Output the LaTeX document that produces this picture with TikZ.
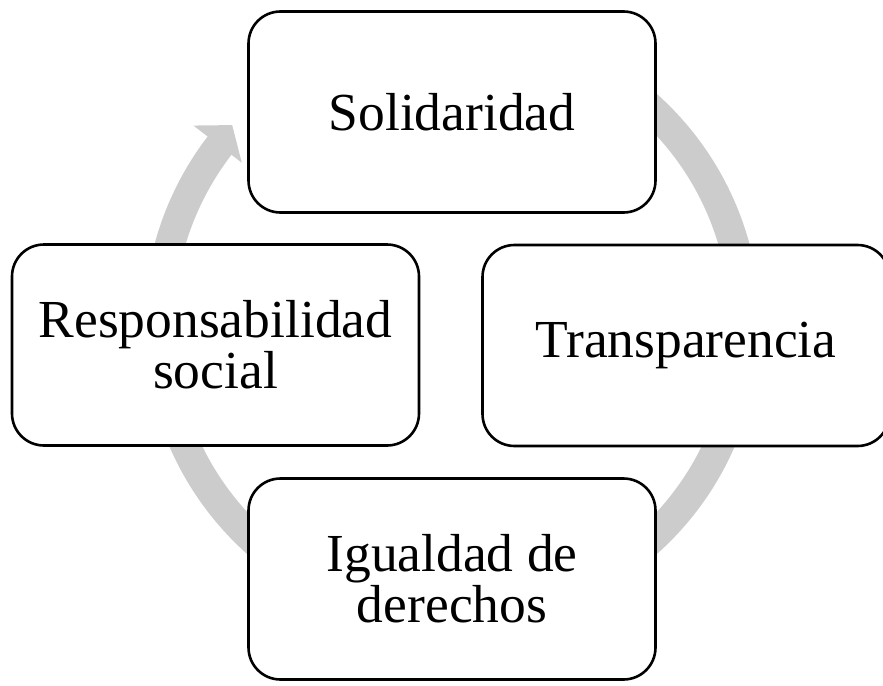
\documentclass[tikz,border=0pt]{standalone}
\usepackage{fontspec}
\setmainfont{Liberation Serif}
\definecolor{arrowgray}{RGB}{204,204,204}
\tikzset{
  cyclebox/.style={draw=black, line width=2.6pt, fill=white, rounded corners=32pt,
    minimum width=407pt, minimum height=201pt, align=center, inner sep=0pt,
    font=\fontsize{53.5}{51}\selectfont},
  cyclearrow/.style={fill=arrowgray, draw=none}
}
\begin{document}
\begin{tikzpicture}[x=1pt,y=-1pt]
\useasboundingbox (0,0) rectangle (883,685);
\clip (0,0) rectangle (883,685);
% circular arrow
\coordinate (ctr) at (452,324);
\coordinate (tip) at ({452+295.5*cos(142.5)+24*sin(142.5)},{324-295.5*sin(142.5)+24*cos(142.5)});
\fill[cyclearrow] ({452+308*cos(80)},{324-308*sin(80)})
  arc[start angle=-80, end angle=217.5, radius=308]
  -- ({452+326*cos(142.5)},{324-326*sin(142.5)})
  -- (tip)
  -- ({452+265*cos(142.5)},{324-265*sin(142.5)})
  -- ({452+278*cos(142.5)},{324-278*sin(142.5)})
  arc[start angle=217.5, end angle=-80, radius=278] -- cycle;
% boxes
\node[cyclebox] (sol) at (452,112) {Solidaridad};
\node[cyclebox] (tra) at (686,345.5) {Transparencia};
\node[cyclebox] (igu) at (452,579) {Igualdad de\\derechos};
\node[cyclebox] (res) at (215.5,345) {Responsabilidad\\social};
\end{tikzpicture}
\end{document}
